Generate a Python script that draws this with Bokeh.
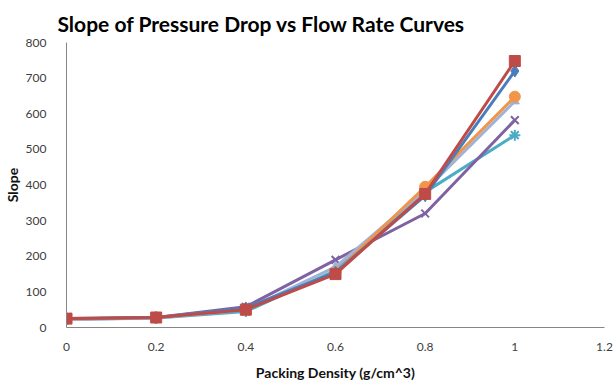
from bokeh.plotting import figure
from bokeh.models import Range1d, FixedTicker
from bokeh.embed import file_html
from bokeh.resources import INLINE

# Packing density (g/cm^3)
density = [0, 0.2, 0.4, 0.6, 0.8, 1.0]

# Slope of the pressure-drop vs flow-rate fit, one list per run
run_blue = [25, 28, 55, 155, 370, 720]
run_red = [25, 28, 50, 150, 375, 748]
run_lightblue = [22, 27, 50, 170, 385, 635]
run_purple = [24, 28, 58, 190, 320, 582]
run_teal = [23, 27, 45, 160, 380, 540]
run_orange = [24, 28, 52, 155, 395, 648]

x_ticks = [0, 0.2, 0.4, 0.6, 0.8, 1.0, 1.2]
x_tick_labels = {0: "0", 0.2: "0.2", 0.4: "0.4", 0.6: "0.6", 0.8: "0.8", 1.0: "1", 1.2: "1.2"}
y_ticks = [0, 100, 200, 300, 400, 500, 600, 700, 800]

FONT = "Lato"

p = figure(width=615, height=392, output_backend="svg", toolbar_location=None,
           x_range=Range1d(0, 1.2), y_range=Range1d(0, 800),
           min_border_left=66, min_border_right=11, min_border_top=42, min_border_bottom=65,
           title="Slope of Pressure Drop vs Flow Rate Curves")
p.outline_line_color = None
p.xgrid.visible = False
p.ygrid.visible = False
p.background_fill_color = "white"
p.border_fill_color = "white"

p.title.text_font = FONT
p.title.text_font_size = "21px"
p.title.text_font_style = "bold"
p.title.text_color = "#000000"
p.title.align = "left"
p.title.offset = -9
p.title.standoff = 14

for ax in (p.xaxis[0], p.yaxis[0]):
    ax.axis_line_color = "#868686"
    ax.axis_line_width = 1
    ax.major_tick_line_color = None
    ax.minor_tick_line_color = None
    ax.major_label_text_font = FONT
    ax.major_label_text_font_size = "12px"
    ax.major_label_text_color = "#404040"
    ax.axis_label_text_font = FONT
    ax.axis_label_text_font_size = "14px"
    ax.axis_label_text_font_style = "bold"
    ax.axis_label_text_color = "#111111"

p.xaxis.ticker = FixedTicker(ticks=x_ticks)
p.xaxis.major_label_overrides = x_tick_labels
p.xaxis.major_label_standoff = 9
p.xaxis.axis_label = "Packing Density (g/cm^3)"
p.xaxis.axis_label_standoff = 10

p.yaxis.ticker = FixedTicker(ticks=y_ticks)
p.yaxis.major_label_standoff = 14
p.yaxis.axis_label = "Slope"
p.yaxis.axis_label_standoff = 2

LW = 3
# drawn back to front so the red run sits on top
p.line(density, run_teal, line_color="#4BACC6", line_width=LW)
p.asterisk(density, run_teal, size=11, line_color="#4BACC6", line_width=2)

p.line(density, run_purple, line_color="#7F62A1", line_width=LW)
p.x(density, run_purple, size=11, line_color="#7F62A1", line_width=2)

p.line(density, run_lightblue, line_color="#9DB3DA", line_width=LW)
p.triangle(density, run_lightblue, size=9, fill_color="#9DB3DA", line_color="#9DB3DA")

p.line(density, run_orange, line_color="#F0954A", line_width=LW)
p.scatter(density, run_orange, size=11, marker="circle", fill_color="#F0954A", line_color="#F0954A")

p.line(density, run_blue, line_color="#4A7EBB", line_width=LW)
p.scatter(density, run_blue, size=12, marker="diamond", fill_color="#4A7EBB", line_color="#4A7EBB")

p.line(density, run_red, line_color="#BE4B48", line_width=LW)
p.scatter(density, run_red, size=11, marker="square", fill_color="#BE4B48", line_color="#BE4B48")

open("out.html", "w").write(file_html(p, INLINE))
